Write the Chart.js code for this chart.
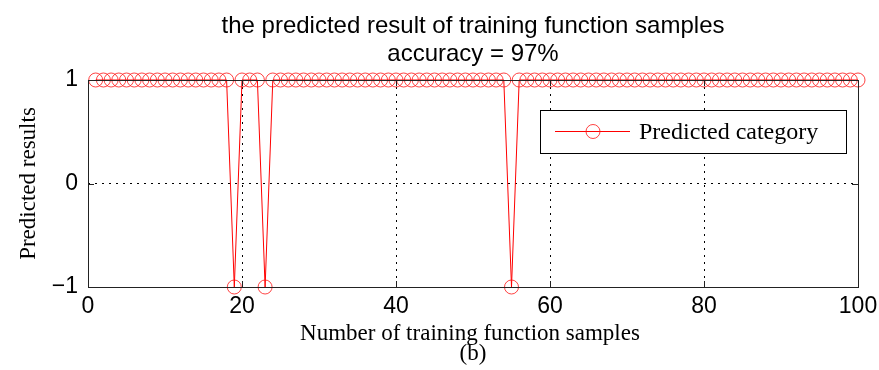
<!DOCTYPE html>
<html>
<head>
<meta charset="utf-8">
<script src="https://cdn.jsdelivr.net/npm/chart.js@4"></script>
<style>
    html, body { margin: 0; padding: 0; background: #fff; }
</style>
</head>
<body>
<canvas id="myChart" width="879" height="370"></canvas>
<script>
// 데이터
const titleLines = ['the predicted result of training function samples', 'accuracy = 97%']
const xTitle = 'Number of training function samples'
const yTitle = 'Predicted results'
const subLabel = '(b)'
const seriesName = 'Predicted category'
const xTicks = [0, 20, 40, 60, 80, 100]
const yTicks = [-1, 0, 1]
// 샘플 번호 1..100
const sampleNo = [
    1, 2, 3, 4, 5, 6, 7, 8, 9, 10,
    11, 12, 13, 14, 15, 16, 17, 18, 19, 20,
    21, 22, 23, 24, 25, 26, 27, 28, 29, 30,
    31, 32, 33, 34, 35, 36, 37, 38, 39, 40,
    41, 42, 43, 44, 45, 46, 47, 48, 49, 50,
    51, 52, 53, 54, 55, 56, 57, 58, 59, 60,
    61, 62, 63, 64, 65, 66, 67, 68, 69, 70,
    71, 72, 73, 74, 75, 76, 77, 78, 79, 80,
    81, 82, 83, 84, 85, 86, 87, 88, 89, 90,
    91, 92, 93, 94, 95, 96, 97, 98, 99, 100,
]
const predicted = [
    1, 1, 1, 1, 1, 1, 1, 1, 1, 1,
    1, 1, 1, 1, 1, 1, 1, 1, -1, 1,
    1, 1, -1, 1, 1, 1, 1, 1, 1, 1,
    1, 1, 1, 1, 1, 1, 1, 1, 1, 1,
    1, 1, 1, 1, 1, 1, 1, 1, 1, 1,
    1, 1, 1, 1, -1, 1, 1, 1, 1, 1,
    1, 1, 1, 1, 1, 1, 1, 1, 1, 1,
    1, 1, 1, 1, 1, 1, 1, 1, 1, 1,
    1, 1, 1, 1, 1, 1, 1, 1, 1, 1,
    1, 1, 1, 1, 1, 1, 1, 1, 1, 1,
]

const RED = '#ff0000'
const MARK = 'rgba(255, 20, 20, 0.8)'
const SANS = '"Liberation Sans", Arial, sans-serif'
const SERIF = '"Liberation Serif", "Times New Roman", serif'

// MATLAB 스타일 박스, 눈금, 제목, 범례 그리기
const matlabFrame = {
    id: 'matlabFrame',
    afterDatasetsDraw(chart) {
        const { ctx, chartArea: a, scales } = chart
        ctx.save()
        // 박스
        ctx.strokeStyle = '#222'
        ctx.lineWidth = 1
        ctx.setLineDash([])
        ctx.strokeRect(a.left + 0.5, a.top + 0.5, a.right - a.left, a.bottom - a.top)
        // 안쪽 눈금
        ctx.beginPath()
        xTicks.forEach(function (v) {
            const px = Math.round(scales.x.getPixelForValue(v)) + 0.5
            ctx.moveTo(px, a.bottom); ctx.lineTo(px, a.bottom - 6)
            ctx.moveTo(px, a.top); ctx.lineTo(px, a.top + 6)
        })
        yTicks.forEach(function (v) {
            const py = Math.round(scales.y.getPixelForValue(v)) + 0.5
            ctx.moveTo(a.left, py); ctx.lineTo(a.left + 6, py)
            ctx.moveTo(a.right, py); ctx.lineTo(a.right - 6, py)
        })
        ctx.stroke()
        ctx.restore()
    },
    afterDraw(chart) {
        const { ctx, chartArea: a } = chart
        const cx = (a.left + a.right) / 2
        ctx.save()
        ctx.fillStyle = '#000'
        // 제목
        ctx.textAlign = 'center'
        ctx.textBaseline = 'alphabetic'
        ctx.font = '24px ' + SANS
        ctx.fillText(titleLines[0], cx, 33)
        ctx.fillText(titleLines[1], cx, 61)
        // 축 제목
        ctx.font = '23px ' + SERIF
        ctx.fillText(xTitle, cx - 3, 340)
        ctx.fillText(subLabel, cx, 360)
        ctx.save()
        ctx.translate(29, (a.top + a.bottom) / 2)
        ctx.rotate(-Math.PI / 2)
        ctx.textBaseline = 'middle'
        ctx.fillText(yTitle, 0, 0)
        ctx.restore()

        // 범례 박스
        const lx = 540, ly = 110, lw = 306, lh = 43
        ctx.fillStyle = '#fff'
        ctx.fillRect(lx, ly, lw, lh)
        ctx.strokeStyle = '#000'
        ctx.lineWidth = 1
        ctx.strokeRect(lx + 0.5, ly + 0.5, lw, lh)
        const my = ly + 21.5
        ctx.strokeStyle = RED
        ctx.beginPath()
        ctx.moveTo(555, my); ctx.lineTo(630, my)
        ctx.stroke()
        ctx.strokeStyle = MARK
        ctx.beginPath()
        ctx.arc(593, my, 7, 0, Math.PI * 2)
        ctx.stroke()
        ctx.fillStyle = '#000'
        ctx.textAlign = 'left'
        ctx.textBaseline = 'middle'
        ctx.font = '24px ' + SERIF
        ctx.fillText(seriesName, 639, my + 1)
        ctx.restore()
    },
}

const ctx = document.getElementById('myChart').getContext('2d')
const myChart = new Chart(ctx, {
    type: 'scatter',
    data: {
        datasets: [
            {
                label: seriesName,
                data: sampleNo.map(function (n, i) {
                    return { x: n, y: predicted[i] }
                }),
                showLine: true,
                borderColor: RED,
                borderWidth: 1,
                pointStyle: 'circle',
                pointRadius: 7,
                pointBorderWidth: 1,
                pointBorderColor: MARK,
                pointBackgroundColor: 'rgba(0,0,0,0)',
                clip: false,
            },
        ],
    },
    options: {
        responsive: false,
        animation: false,
        devicePixelRatio: 1,
        layout: {
            padding: { top: 80, right: 21, left: 0, bottom: 0 },
        },
        plugins: {
            legend: { display: false },
            title: { display: false },
            tooltip: { enabled: false },
        },
        scales: {
            x: {
                type: 'linear',
                min: 0,
                max: 100,
                afterFit: function (scale) {
                    scale.height = 83
                    scale.paddingLeft = 0
                    scale.paddingRight = 0
                },
                afterBuildTicks: function (scale) {
                    scale.ticks = xTicks.map(function (v) { return { value: v } })
                },
                ticks: {
                    color: '#000',
                    font: { family: SANS, size: 23 },
                    padding: 6,
                    maxRotation: 0,
                },
                grid: { color: '#000', lineWidth: 1, drawTicks: false },
                border: { display: false, dash: [2, 5] },
            },
            y: {
                min: -1,
                max: 1,
                afterFit: function (scale) {
                    scale.width = 88
                    scale.paddingTop = 0
                    scale.paddingBottom = 0
                },
                afterBuildTicks: function (scale) {
                    scale.ticks = yTicks.map(function (v) { return { value: v } })
                },
                ticks: {
                    color: '#000',
                    font: { family: SANS, size: 23 },
                    padding: 10,
                    callback: function (v) {
                        return v < 0 ? '\u2212' + Math.abs(v) : String(v)
                    },
                },
                grid: { color: '#000', lineWidth: 1, drawTicks: false },
                border: { display: false, dash: [2, 5] },
            },
        },
    },
    plugins: [matlabFrame],
})
</script>
</body>
</html>
